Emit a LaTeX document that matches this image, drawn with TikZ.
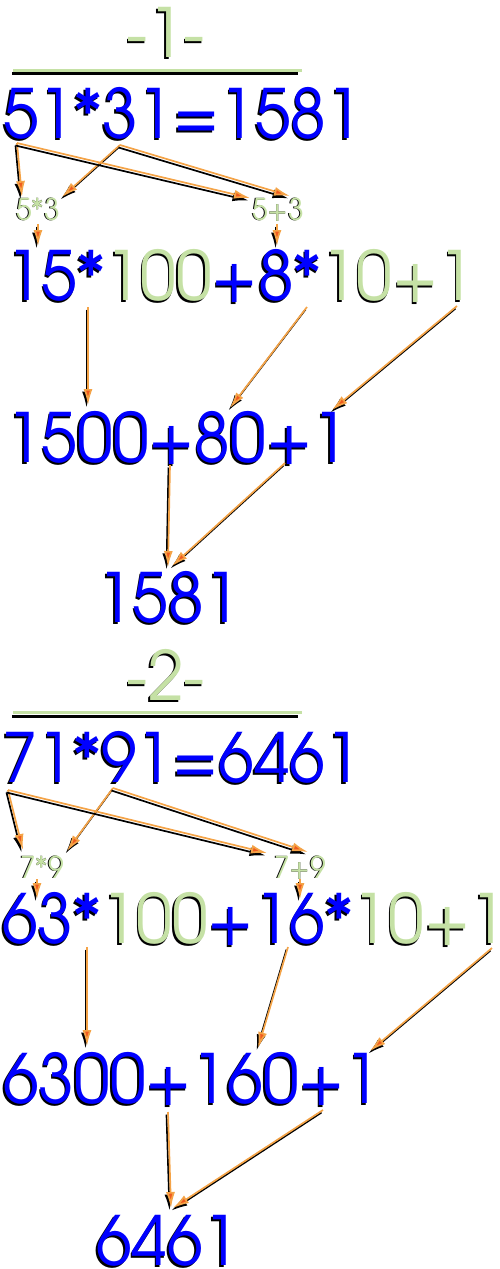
\documentclass[tikz,border=0pt]{standalone}
\usepackage{fontspec}
\setmainfont[FakeStretch=0.945]{texgyreadventor-regular.otf}
\usetikzlibrary{arrows.meta, positioning, calc}
\definecolor{numblue}{HTML}{0000FF}
\definecolor{numgreen}{HTML}{C5E1A5}
\definecolor{linkorange}{HTML}{F4A347}
\definecolor{tipred}{HTML}{F05A1E}

% colour switches (emptied for the black shadow copy)
\newcommand{\cb}{\color{numblue}}
\newcommand{\cg}{\color{numgreen}}
\newcommand{\shadowed}[3]{%
  {\renewcommand{\cb}{}\renewcommand{\cg}{}%
   \makebox[0pt][l]{\hspace*{#1}\raisebox{#2}{\color{black}#3}}}#3}

\begin{document}
\begin{tikzpicture}[
  x=1pt, y=-1pt,
  num/.style={
    inner sep=0pt,
    anchor=base west,
    font=\fontsize{68}{68}\selectfont
  },
  title/.style={
    inner sep=0pt,
    anchor=base,
    font=\fontsize{68}{68}\selectfont
  },
  pair/.style={
    inner sep=0pt,
    anchor=base,
    font=\fontsize{30}{30}\selectfont
  },
  link/.style={
    -{Latex[length=16pt,width=9pt,fill=tipred]},
    line width=1.7pt,
    draw=linkorange
  },
  linkshadow/.style={
    -{Latex[length=16pt,width=9pt]},
    line width=1.7pt,
    draw=black
  }
]
\useasboundingbox (0,0) rectangle (500,1269);

% ---------- Example 1 ----------
\node[title] (title1) at (166,57) {\shadowed{-1.5pt}{-2.5pt}{\cg -1-}};
\draw[black, line width=3pt] (12,73.5) -- (298,73.5);
\draw[numgreen, line width=3pt] (13,70) -- (302,70);

\node[num] (eq1)     at (3,138)  {\shadowed{-1.5pt}{-2.5pt}{\cb 51*31=1581}};
\node[pair] (pair1a) at (38,220) {\shadowed{-0.4pt}{-0.5pt}{\cg 5*3}};
\node[pair] (pair1b) at (278,220) {\shadowed{-0.4pt}{-0.5pt}{\cg 5+3}};
\node[num] (expand1) at (6,300)  {\shadowed{-1.5pt}{-2.5pt}{\cb 15*\cg 100\cb +8*\cg 10+1}};
\node[num] (sum1)    at (6,462)  {\shadowed{-1.5pt}{-2.5pt}{\cb 1500+80+1}};
\node[num] (res1)    at (97,622) {\shadowed{-1.5pt}{-2.5pt}{\cb 1581}};

% arrow ends
\coordinate (e1five)  at (17,143);
\coordinate (e1three) at (120,145);
\coordinate (p1aL) at (22,197);
\coordinate (p1aR) at (62,197);
\coordinate (p1bL) at (250,198);
\coordinate (p1bR) at (290,196);
\coordinate (p1aD) at (38,224);
\coordinate (p1bD) at (277,224);
\coordinate (x1a) at (38,246);
\coordinate (x1b) at (277,246);
\coordinate (x1fifteen) at (88,307);
\coordinate (x1eight)   at (307,307);
\coordinate (x1one)     at (457,306);
\coordinate (s1a) at (88,405);
\coordinate (s1b) at (230,408);
\coordinate (s1c) at (332,410);
\coordinate (s1up)   at (170,465);
\coordinate (s1plus) at (285,463);
\coordinate (r1a) at (168,567);
\coordinate (r1b) at (172,566);

% ---------- Example 2 ----------
\node[title] (title2) at (166,700) {\shadowed{-1.5pt}{-2.5pt}{\cg -2-}};
\draw[black, line width=3pt] (12,716) -- (298,716);
\draw[numgreen, line width=3pt] (13,712.5) -- (302,712.5);

\node[num] (eq2)     at (2,782)  {\shadowed{-1.5pt}{-2.5pt}{\cb 71*91=6461}};
\node[pair] (pair2a) at (42,878) {\shadowed{-0.4pt}{-0.5pt}{\cg 7*9}};
\node[pair] (pair2b) at (300,878) {\shadowed{-0.4pt}{-0.5pt}{\cg 7+9}};
\node[num] (expand2) at (2,943)  {\shadowed{-1.5pt}{-2.5pt}{\cb 63*\cg 100\cb +16*\cg 10+1}};
\node[num] (sum2)    at (3,1103) {\shadowed{-1.5pt}{-2.5pt}{\cb 6300+160+1}};
\node[num] (res2)    at (96,1265) {\shadowed{-1.5pt}{-2.5pt}{\cb 6461}};

% arrow ends
\coordinate (e2seven) at (8,790);
\coordinate (e2nine)  at (113,788);
\coordinate (p2aL) at (23,850);
\coordinate (p2aR) at (67,851);
\coordinate (p2bL) at (267,853);
\coordinate (p2bR) at (308,852);
\coordinate (p2aD) at (37,879);
\coordinate (p2bD) at (300,879);
\coordinate (x2a) at (37,899);
\coordinate (x2b) at (300,899);
\coordinate (x2sixty)   at (87,947);
\coordinate (x2sixteen) at (288,947);
\coordinate (x2one)     at (492,948);
\coordinate (s2a) at (87,1046);
\coordinate (s2b) at (258,1048);
\coordinate (s2c) at (370,1051);
\coordinate (s2up)   at (168,1112);
\coordinate (s2plus) at (323,1110);
\coordinate (r2a) at (171,1208);
\coordinate (r2b) at (173,1208);

% Arrows (black shadow first)
\foreach \from/\to in {
  e1five/p1aL, e1three/p1aR, e1five/p1bL, e1three/p1bR,
  p1aD/x1a, p1bD/x1b,
  x1fifteen/s1a, x1eight/s1b, x1one/s1c,
  s1up/r1a, s1plus/r1b,
  e2seven/p2aL, e2nine/p2aR, e2seven/p2bL, e2nine/p2bR,
  p2aD/x2a, p2bD/x2b,
  x2sixty/s2a, x2sixteen/s2b, x2one/s2c,
  s2up/r2a, s2plus/r2b}
{
  \draw[linkshadow] ([shift={(-1.5,2.5)}]\from) -- ([shift={(-1.5,2.5)}]\to);
  \draw[link] (\from) -- (\to);
}

\end{tikzpicture}
\end{document}
